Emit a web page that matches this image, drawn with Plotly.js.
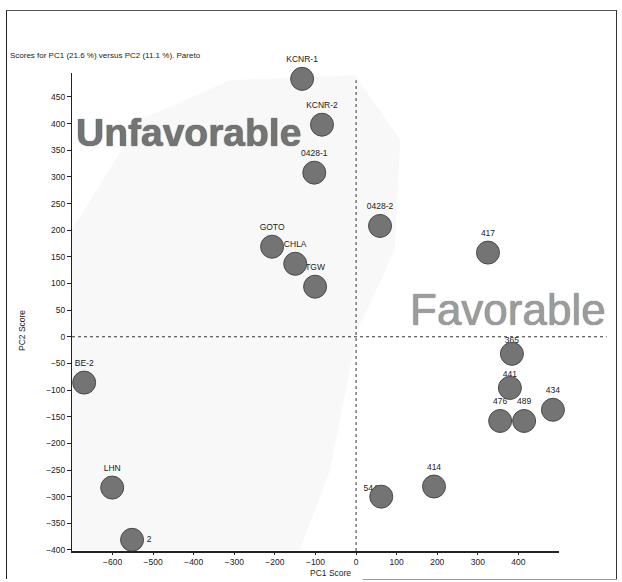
<!DOCTYPE html>
<html>
<head>
<meta charset="utf-8">
<script src="https://cdn.plot.ly/plotly-3.0.1.min.js"></script>
<style>
  html, body { margin: 0; padding: 0; background: #fff; }
  #wrap { position: relative; width: 622px; height: 582px; overflow: hidden; }
  #frame { position: absolute; left: 6px; top: 10px; width: 609px; height: 568px;
           border-left: 1.5px solid #222; border-top: 1px solid #555; border-right: 1.5px solid #333; }
  #frameBottom { position: absolute; left: 363px; top: 579px; width: 254px; height: 0;
                 border-top: 1.5px solid #999; }
  #chart { position: absolute; left: 0; top: 0; width: 622px; height: 582px; }
</style>
</head>
<body>
<div id="wrap">
  <div id="frame"></div>
  <div id="frameBottom"></div>
  <div id="chart"></div>
</div>
<script>
// PCA score plot: sample names with their PC1 / PC2 scores
const samples = ['KCNR-1', 'KCNR-2', '0428-1', '0428-2', 'GOTO', 'CHLA', 'TGW',
                 '417', '365', '441', '434', '476', '489', '414', '544',
                 'BE-2', 'LHN', '2'];
const pc1 = [-133, -84, -103, 59, -207, -150, -101,
             325, 384, 379, 485, 355, 414, 192, 62,
             -670, -601, -552];
const pc2 = [484, 398, 308, 208, 169, 137, 94,
             158, -32, -96, -137, -158, -158, -281, -300,
             -86, -283, -381];

// label placement relative to each point (an invisible marker sets the gap)
const labelPos = samples.map(s => s === '2' ? 'middle right' : (s === '544' ? 'top left' : 'top center'));
const labelGap = samples.map(s => s === '544' ? 4 : ((s === '365' || s === '441') ? 12 : 22));

const xTicks = [-600, -500, -400, -300, -200, -100, 0, 100, 200, 300, 400];
const yTicks = [-400, -350, -300, -250, -200, -150, -100, -50, 0,
                50, 100, 150, 200, 250, 300, 350, 400, 450];

const baseFont = 'Liberation Sans, Arial, sans-serif';
const tickFont = { family: baseFont, size: 8.5, color: '#222' };

const labels = {
  type: 'scatter', mode: 'markers+text', x: pc1, y: pc2, text: samples,
  textposition: labelPos, cliponaxis: false, hoverinfo: 'skip',
  marker: { size: labelGap, color: 'rgba(0,0,0,0)', line: { width: 0 } },
  textfont: { family: baseFont, size: 8.5, color: '#222' },
  showlegend: false
};

const points = {
  type: 'scatter', mode: 'markers', x: pc1, y: pc2, cliponaxis: false,
  marker: { size: 23, color: '#747474', line: { color: '#4a4a4a', width: 1 } },
  showlegend: false
};

// faint band behind the scores
const cloud = 'M 0 0.672 L 0.140 0.902 L 0.324 0.985 L 0.581 0.996 L 0.674 0.860 ' +
              'L 0.663 0.630 L 0.587 0.462 L 0.530 0.169 L 0.468 0.002 L 0 0.002 Z';

const layout = {
  width: 622, height: 582,
  margin: { l: 72, r: 63, t: 73, b: 31 },
  paper_bgcolor: 'rgba(0,0,0,0)', plot_bgcolor: 'rgba(0,0,0,0)',
  title: {
    text: 'Scores for PC1 (21.6 %) versus PC2 (11.1 %). Pareto',
    xref: 'container', yref: 'container', x: 0.016, xanchor: 'left',
    y: 0.905, yanchor: 'middle',
    font: { family: baseFont, size: 8, color: '#222' }
  },
  xaxis: {
    range: [-700, 500], tickvals: xTicks, ticks: 'outside', ticklen: 2,
    tickcolor: '#222', tickfont: tickFont, showgrid: false, zeroline: false,
    showline: true, linecolor: '#222', linewidth: 2, automargin: false
  },
  yaxis: {
    range: [-402, 495], tickvals: yTicks, ticks: 'outside', ticklen: 4,
    tickcolor: '#222', tickfont: tickFont, showgrid: false, zeroline: false,
    showline: true, linecolor: '#222', linewidth: 1, automargin: false
  },
  shapes: [
    { type: 'path', path: cloud, xref: 'paper', yref: 'paper', layer: 'below',
      fillcolor: 'rgba(0,0,0,0.028)', line: { width: 0 } },
    { type: 'line', xref: 'x', yref: 'paper', x0: 0, x1: 0, y0: 0, y1: 0.985,
      line: { color: '#333', width: 1, dash: 'dot' } },
    { type: 'line', xref: 'paper', yref: 'y', x0: 0, x1: 1.098, y0: 0, y1: 0,
      line: { color: '#333', width: 1, dash: 'dot' } }
  ],
  annotations: [
    { text: 'Unfavorable', xref: 'x', yref: 'y', x: -413, y: 383, showarrow: false,
      font: { family: baseFont, size: 39, weight: 700,
              color: '#747474', shadow: '0 0 1px #222' } },
    { text: 'Favorable', xref: 'x', yref: 'y', x: 374, y: 51, showarrow: false,
      font: { family: baseFont, size: 44,
              color: '#9c9c9c', shadow: '0 0 1px #555' } },
    { text: 'PC2 Score', xref: 'paper', yref: 'paper', x: -0.103, y: 0.462,
      textangle: -90, showarrow: false, xanchor: 'center', yanchor: 'middle',
      font: { family: baseFont, size: 8.5, color: '#222' } },
    { text: 'PC1 Score', xref: 'paper', yref: 'paper', x: 0.53, y: -0.046,
      showarrow: false, xanchor: 'center', yanchor: 'middle',
      font: { family: baseFont, size: 8.5, color: '#222' } }
  ]
};

Plotly.newPlot('chart', [labels, points], layout, { displayModeBar: false, staticPlot: true });
</script>
</body>
</html>
